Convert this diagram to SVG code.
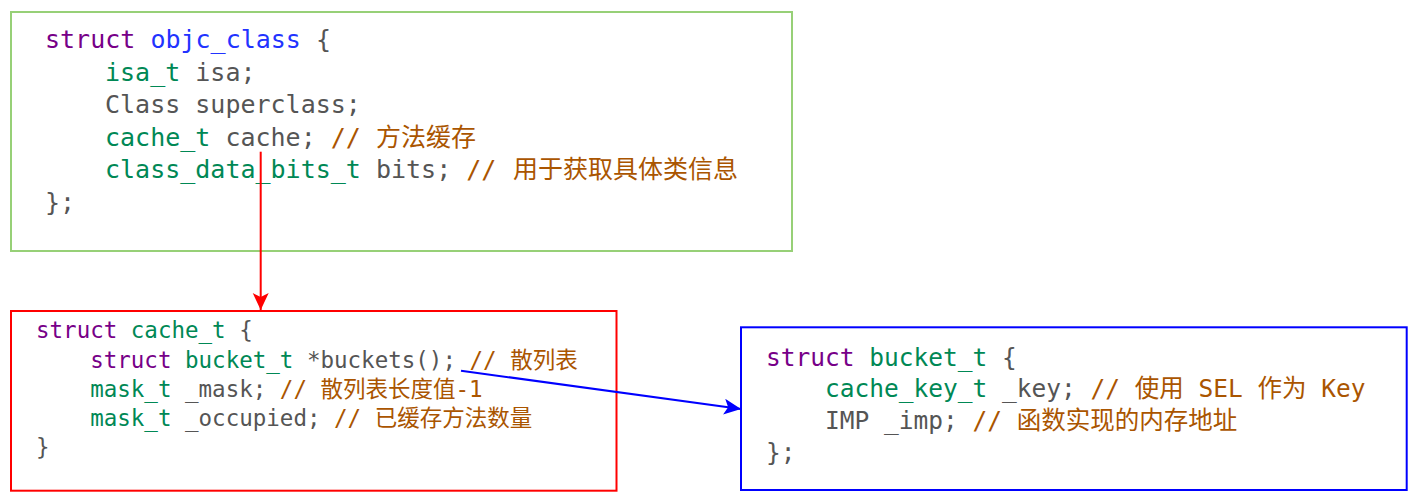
<svg xmlns="http://www.w3.org/2000/svg" width="1420" height="502" viewBox="0 0 1420 502">
<defs>
<style>
text{font-family:"DejaVu Sans Mono","Noto Sans CJK SC",monospace;fill:#555555}
.o{font-size:25px}
.c{font-size:22.5px}
.b{font-size:24.5px}
.kw{fill:#770088}
.def{fill:#2233ff}
.ty{fill:#008855}
.cm{fill:#aa5500}
.box{fill:#ffffff;stroke-width:2}
</style>
<marker id="ahR" markerUnits="userSpaceOnUse" markerWidth="18" markerHeight="17" refX="17" refY="8" orient="auto"><path d="M0,0 L17,8 L0,16 L4,8 z" fill="#ff0000"/></marker>
<marker id="ahB" markerUnits="userSpaceOnUse" markerWidth="18" markerHeight="17" refX="17" refY="8" orient="auto"><path d="M0,0 L17,8 L0,16 L4,8 z" fill="#0000ff"/></marker>
</defs>
<rect width="1420" height="502" fill="#ffffff"/>
<g id="objc_class">
<rect class="box" x="11" y="12" width="781" height="239" stroke="#97d077"/>
<text class="o" xml:space="preserve" x="45" y="48.3"><tspan class="kw">struct</tspan> <tspan class="def">objc_class</tspan> {</text>
<text class="o" xml:space="preserve" x="105" y="80.8"><tspan class="ty">isa_t</tspan> isa;</text>
<text class="o" xml:space="preserve" x="105" y="113.3">Class superclass;</text>
<text class="o" xml:space="preserve" x="105" y="145.8"><tspan class="ty">cache_t</tspan> cache; <tspan class="cm">// 方法缓存</tspan></text>
<text class="o" xml:space="preserve" x="105" y="178.3"><tspan class="ty">class_data_bits_t</tspan> bits; <tspan class="cm">//</tspan></text>
<text class="o cm" x="513" y="178.3" textLength="225" lengthAdjust="spacing">用于获取具体类信息</text>
<text class="o" xml:space="preserve" x="45" y="210.8">};</text>
</g>
<g id="cache_t">
<rect class="box" x="11" y="311" width="605.5" height="179.7" stroke="#ff0000"/>
<text class="c" xml:space="preserve" x="36" y="338.3"><tspan class="kw">struct</tspan> <tspan class="ty">cache_t</tspan> {</text>
<text class="c" xml:space="preserve" x="90.2" y="367.5"><tspan class="kw">struct</tspan> <tspan class="ty">bucket_t</tspan> *buckets(); <tspan class="cm">// 散列表</tspan></text>
<text class="c" xml:space="preserve" x="90.2" y="396.8"><tspan class="ty">mask_t</tspan> _mask; <tspan class="cm">// 散列表长度值-1</tspan></text>
<text class="c" xml:space="preserve" x="90.2" y="426"><tspan class="ty">mask_t</tspan> _occupied; <tspan class="cm">// 已缓存方法数量</tspan></text>
<text class="c" xml:space="preserve" x="36" y="455.3">}</text>
</g>
<g id="bucket_t">
<rect class="box" x="741" y="327.3" width="665.7" height="162.7" stroke="#0000ff"/>
<text class="b" xml:space="preserve" x="766" y="365.5"><tspan class="kw">struct</tspan> <tspan class="ty">bucket_t</tspan> {</text>
<text class="b" xml:space="preserve" x="825" y="397.3"><tspan class="ty">cache_key_t</tspan> _key; <tspan class="cm">// 使用 SEL 作为 Key</tspan></text>
<text class="b" xml:space="preserve" x="825" y="429.2">IMP _imp; <tspan class="cm">// 函数实现的内存地址</tspan></text>
<text class="b" xml:space="preserve" x="766" y="461">};</text>
</g>
<g id="connectors" fill="none" stroke-width="2">
<line x1="260.7" y1="151.7" x2="260.7" y2="310" stroke="#ff0000" marker-end="url(#ahR)"/>
<line x1="461" y1="370.7" x2="741" y2="409" stroke="#0000ff" marker-end="url(#ahB)"/>
</g>
</svg>
